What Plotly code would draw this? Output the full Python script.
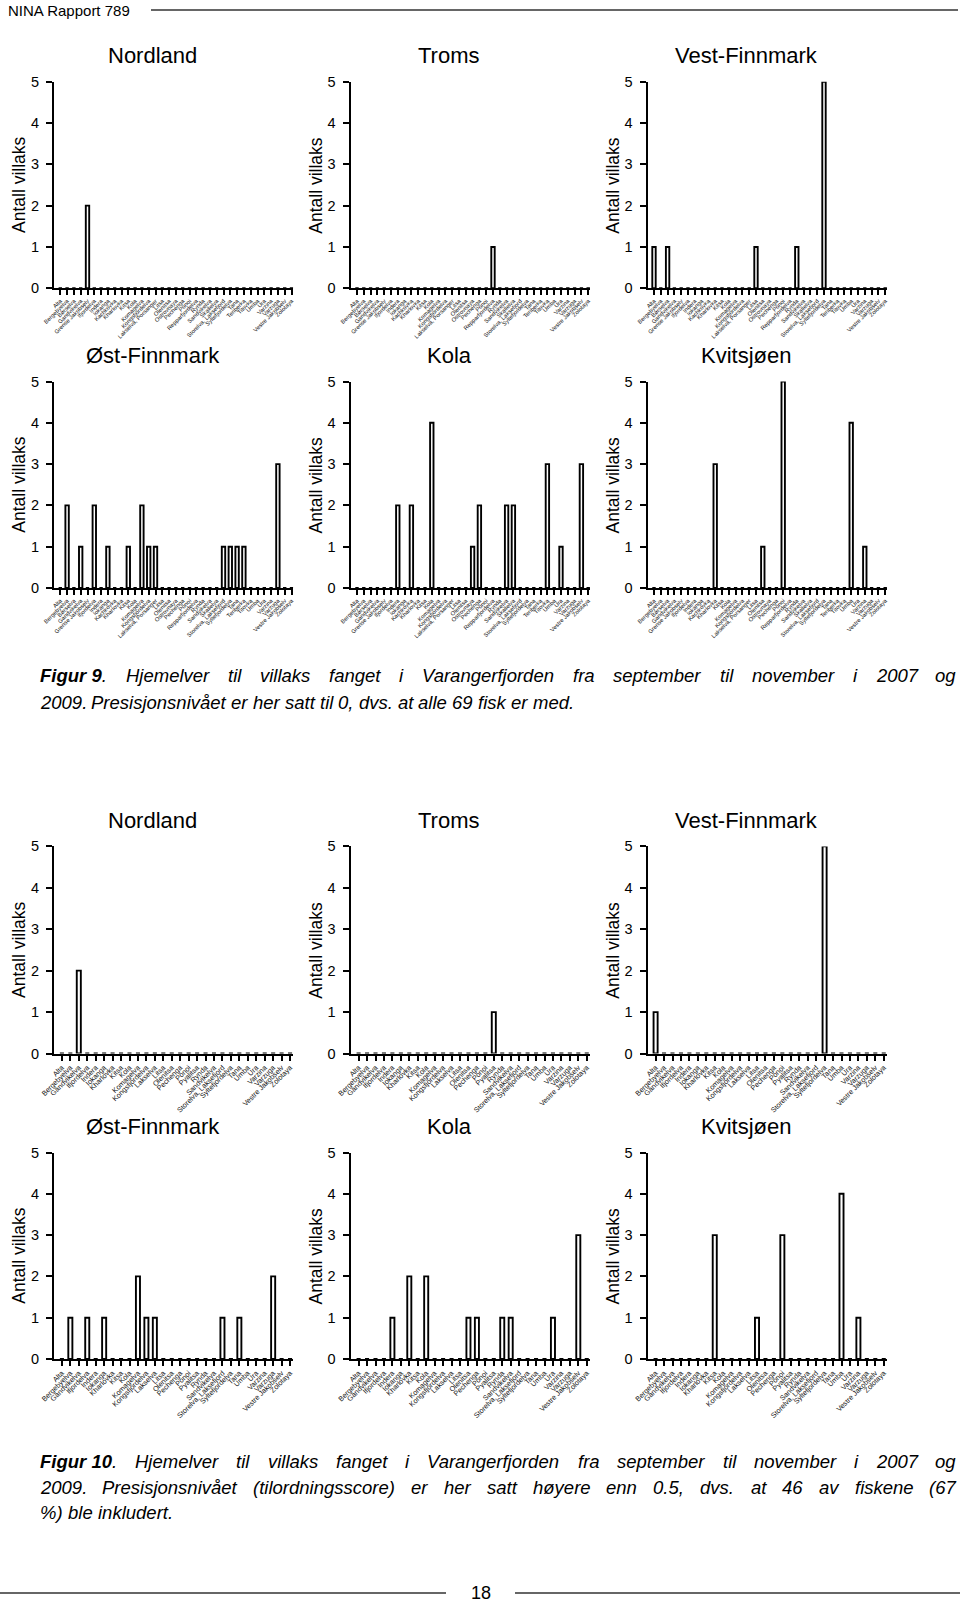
import plotly.graph_objects as go

W, H = 960, 1604

# ---------------- data ----------------
cats9 = ["Alta", "Bergebyelva", "Børselva", "Gandvikelva", "Grense Jakobselv",
         "Ifjordelva", "Indera", "Iokanga", "Kachkovka", "Kharlovka", "Kitsa",
         "Kola", "Komagelva", "Kongsfjordelva", "Lakselva, Porsanger", "Litsa",
         "Olenitsa", "Ostrovnaya", "Pechenga", "Ponoi", "Repparfjordelva", "Rynda",
         "Sandvikelva", "Skallelva", "Storelva, Laksefjord", "Syltefjordelva",
         "Tana", "Teriberka", "Titovka", "Umba", "Ura", "Varzina", "Varzuga",
         "Vestre Jakobselv", "Zolotaya"]

nordland9 = [0, 0, 0, 0, 2, 0, 0, 0, 0, 0, 0, 0, 0, 0, 0, 0, 0, 0, 0, 0, 0, 0, 0, 0, 0, 0, 0, 0, 0, 0, 0, 0, 0, 0, 0]
troms9 = [0, 0, 0, 0, 0, 0, 0, 0, 0, 0, 0, 0, 0, 0, 0, 0, 0, 0, 0, 0, 1, 0, 0, 0, 0, 0, 0, 0, 0, 0, 0, 0, 0, 0, 0]
vestfinnmark9 = [1, 0, 1, 0, 0, 0, 0, 0, 0, 0, 0, 0, 0, 0, 0, 1, 0, 0, 0, 0, 0, 1, 0, 0, 0, 5, 0, 0, 0, 0, 0, 0, 0, 0, 0]
ostfinnmark9 = [0, 2, 0, 1, 0, 2, 0, 1, 0, 0, 1, 0, 2, 1, 1, 0, 0, 0, 0, 0, 0, 0, 0, 0, 1, 1, 1, 1, 0, 0, 0, 0, 3, 0, 0]
kola9 = [0, 0, 0, 0, 0, 0, 2, 0, 2, 0, 0, 4, 0, 0, 0, 0, 0, 1, 2, 0, 0, 0, 2, 2, 0, 0, 0, 0, 3, 0, 1, 0, 0, 3, 0]
kvitsjoen9 = [0, 0, 0, 0, 0, 0, 0, 0, 0, 3, 0, 0, 0, 0, 0, 0, 1, 0, 0, 5, 0, 0, 0, 0, 0, 0, 0, 0, 0, 4, 0, 1, 0, 0, 0]

cats10 = ["Alta", "Bergebyelva", "Gandvikelva", "Ifjordelva", "Indera", "Iokanga",
          "Kharlovka", "Kitsa", "Kola", "Komagelva", "Kongsfjordelva", "Lakselva",
          "Litsa", "Olenitsa", "Pechenga", "Ponoi", "Pyalitsa", "Rynda",
          "Sandvikelva", "Storelva, Laksefjord", "Syltefjordelva", "Tana", "Umba",
          "Ura", "Varzina", "Varzuga", "Vestre Jakobselv", "Zolotaya"]

nordland10 = [0, 0, 2, 0, 0, 0, 0, 0, 0, 0, 0, 0, 0, 0, 0, 0, 0, 0, 0, 0, 0, 0, 0, 0, 0, 0, 0, 0]
troms10 = [0, 0, 0, 0, 0, 0, 0, 0, 0, 0, 0, 0, 0, 0, 0, 0, 1, 0, 0, 0, 0, 0, 0, 0, 0, 0, 0, 0]
vestfinnmark10 = [1, 0, 0, 0, 0, 0, 0, 0, 0, 0, 0, 0, 0, 0, 0, 0, 0, 0, 0, 0, 5, 0, 0, 0, 0, 0, 0, 0]
ostfinnmark10 = [0, 1, 0, 1, 0, 1, 0, 0, 0, 2, 1, 1, 0, 0, 0, 0, 0, 0, 0, 1, 0, 1, 0, 0, 0, 2, 0, 0]
kola10 = [0, 0, 0, 0, 1, 0, 2, 0, 2, 0, 0, 0, 0, 1, 1, 0, 0, 1, 1, 0, 0, 0, 0, 1, 0, 0, 3, 0]
kvitsjoen10 = [0, 0, 0, 0, 0, 0, 0, 3, 0, 0, 0, 0, 1, 0, 0, 3, 0, 0, 0, 0, 0, 0, 4, 0, 1, 0, 0, 0]

regions = ["Nordland", "Troms", "Vest-Finnmark", "Øst-Finnmark", "Kola", "Kvitsjøen"]
y_ticks = [0, 1, 2, 3, 4, 5]
y_title = "Antall villaks"

caption9 = [
    "Figur 9. Hjemelver til villaks fanget i Varangerfjorden fra september til november i 2007 og",
    "2009. Presisjonsnivået er her satt til 0, dvs. at alle 69 fisk er med.",
]
caption10 = [
    "Figur 10. Hjemelver til villaks fanget i Varangerfjorden fra september til november i 2007 og",
    "2009. Presisjonsnivået (tilordningsscore) er her satt høyere enn 0.5, dvs. at 46 av fiskene (67",
    "%) ble inkludert.",
]
header_text = "NINA Rapport 789"
page_number = "18"

# ---------------- layout geometry (page pixels) ----------------
FONT = "Liberation Sans, Arial, Helvetica, sans-serif"
cols_px = [(54.0, 293.3), (350.7, 590.0), (647.7, 887.0)]
rows_px = [(81.7, 288.3), (381.5, 588.0), (846.4, 1053.5), (1152.5, 1359.0)]


def px_x(x):
    return x / W


def px_y(y):
    return 1 - y / H


fig = go.Figure()
layout = {}
annotations = []
shapes = []

groups = [
    (cats9, [nordland9, troms9, vestfinnmark9, ostfinnmark9, kola9, kvitsjoen9], 0, 6.8, 6.3, 0.5, 5.8),
    (cats10, [nordland10, troms10, vestfinnmark10, ostfinnmark10, kola10, kvitsjoen10], 2, 8.45, 7.9, 0.48, 7.2),
]

n = 0
for cats, series, row0, pitch, offset, bw, xfs in groups:
    for k, vals in enumerate(series):
        n += 1
        r = row0 + k // 3
        c = k % 3
        x0, x1 = cols_px[c]
        ytop, ybot = rows_px[r]
        sfx = "" if n == 1 else str(n)
        fig.add_trace(go.Bar(
            x=list(range(len(cats))), y=vals, width=bw,
            marker=dict(color="white", line=dict(color="black", width=1.9)),
            xaxis="x" + sfx, yaxis="y" + sfx, cliponaxis=False, showlegend=False,
            hoverinfo="skip",
        ))
        r0 = -offset / pitch
        r1 = r0 + (x1 - x0) / pitch
        layout["xaxis" + sfx] = dict(
            domain=[px_x(x0), px_x(x1)], anchor="y" + sfx, range=[r0, r1],
            tickmode="array", tickvals=list(range(len(cats))), ticktext=cats,
            tickangle=-45, ticks="outside", ticklen=5, tickwidth=1.7,
            tickcolor="black", showline=True, linecolor="black", linewidth=2.2,
            showgrid=False, zeroline=False, automargin=False,
            tickfont=dict(family=FONT, size=xfs, color="#111111"), fixedrange=True,
        )
        layout["yaxis" + sfx] = dict(
            domain=[px_y(ybot), px_y(ytop)], anchor="x" + sfx, range=[0, 5],
            tickmode="array", tickvals=y_ticks, ticks="outside", ticklen=6,
            tickwidth=2, tickcolor="black", showline=True, linecolor="black",
            linewidth=2.2, showgrid=False, zeroline=False, automargin=False,
            ticklabelstandoff=4,
            tickfont=dict(family=FONT, size=14.5, color="black"), fixedrange=True,
        )
        # panel title
        annotations.append(dict(
            text=regions[k], x=px_x((x0 + x1) / 2 - 21), y=px_y(ytop - 26),
            xref="paper", yref="paper", xanchor="center", yanchor="middle",
            showarrow=False, font=dict(family=FONT, size=22, color="black"),
        ))
        # y-axis title
        annotations.append(dict(
            text=y_title, x=px_x(x0 - 35), y=px_y((ytop + ybot) / 2),
            xref="paper", yref="paper", xanchor="center", yanchor="middle",
            textangle=-90, showarrow=False,
            font=dict(family=FONT, size=17.5, color="black"),
        ))

# ---------------- captions (justified word by word) ----------------
AW = {" ": 278, ".": 278, ",": 278, "(": 333, ")": 333, "%": 889,
      "a": 556, "b": 556, "c": 500, "d": 556, "e": 556, "f": 278, "g": 556,
      "h": 556, "i": 222, "j": 222, "k": 500, "l": 222, "m": 833, "n": 556,
      "o": 556, "p": 556, "q": 556, "r": 333, "s": 500, "t": 278, "u": 556,
      "v": 500, "w": 722, "x": 500, "y": 500, "z": 500, "å": 556, "ø": 611,
      "æ": 889, "F": 611, "H": 722, "P": 667, "V": 667}
AWB = {" ": 278, "F": 611, "i": 278, "g": 611, "u": 611, "r": 389}


def text_w(s, size, bold=False):
    tot = 0
    for ch in s:
        if ch.isdigit():
            tot += 556
        elif bold:
            tot += AWB.get(ch, AW.get(ch, 556))
        else:
            tot += AW.get(ch, 556)
    return tot * size / 1000.0


CAP_SIZE = 18.5
CAP_X0, CAP_X1 = 38.0, 954.0


def caption_line(line, y, justify):
    words = line.split(" ")
    toks = []
    if words[0] == "Figur":
        num = words[1].rstrip(".")
        html = "<b><i>Figur " + num + "</i></b><i>.</i>"
        w = text_w("Figur " + num, CAP_SIZE, True) + text_w(".", CAP_SIZE)
        toks.append((html, w))
        words = words[2:]
    for wd in words:
        toks.append(("<i>" + wd + "</i>", text_w(wd, CAP_SIZE)))
    if justify:
        gap = (CAP_X1 - CAP_X0 - sum(w for _, w in toks)) / (len(toks) - 1)
    else:
        gap = text_w(" ", CAP_SIZE)
    x = CAP_X0
    for html, w in toks:
        annotations.append(dict(
            text=html, x=px_x(x), y=px_y(y), xref="paper", yref="paper",
            xanchor="left", yanchor="middle", showarrow=False,
            font=dict(family=FONT, size=CAP_SIZE, color="black"),
        ))
        x += w + gap


cap9_y = [675.5, 702.0]
for i, line in enumerate(caption9):
    caption_line(line, cap9_y[i], i < len(caption9) - 1)
cap10_y = [1461.6, 1487.2, 1512.8]
for i, line in enumerate(caption10):
    caption_line(line, cap10_y[i], i < len(caption10) - 1)

# ---------------- header / footer ----------------
annotations.append(dict(
    text=header_text, x=px_x(6), y=px_y(10), xref="paper", yref="paper",
    xanchor="left", yanchor="middle", showarrow=False,
    font=dict(family=FONT, size=15, color="black"),
))
shapes.append(dict(type="line", xref="paper", yref="paper",
                   x0=px_x(151), x1=px_x(958), y0=px_y(10), y1=px_y(10),
                   line=dict(color="#333333", width=1.3)))
annotations.append(dict(
    text=page_number, x=px_x(480.5), y=px_y(1593), xref="paper", yref="paper",
    xanchor="center", yanchor="middle", showarrow=False,
    font=dict(family=FONT, size=18, color="black"),
))
shapes.append(dict(type="line", xref="paper", yref="paper",
                   x0=px_x(0), x1=px_x(446), y0=px_y(1593), y1=px_y(1593),
                   line=dict(color="#333333", width=1.3)))
shapes.append(dict(type="line", xref="paper", yref="paper",
                   x0=px_x(515), x1=px_x(960), y0=px_y(1593), y1=px_y(1593),
                   line=dict(color="#333333", width=1.3)))

fig.update_layout(
    template="none",
    width=W, height=H, margin=dict(l=0, r=0, t=0, b=0, pad=0, autoexpand=False),
    paper_bgcolor="white", plot_bgcolor="white", bargap=0.5, showlegend=False,
    annotations=annotations, shapes=shapes, **layout,
)

fig.write_html(
    "out.html",
    config={"displayModeBar": False},
    post_script="document.body.style.margin='0';document.body.style.overflow='hidden';",
)
